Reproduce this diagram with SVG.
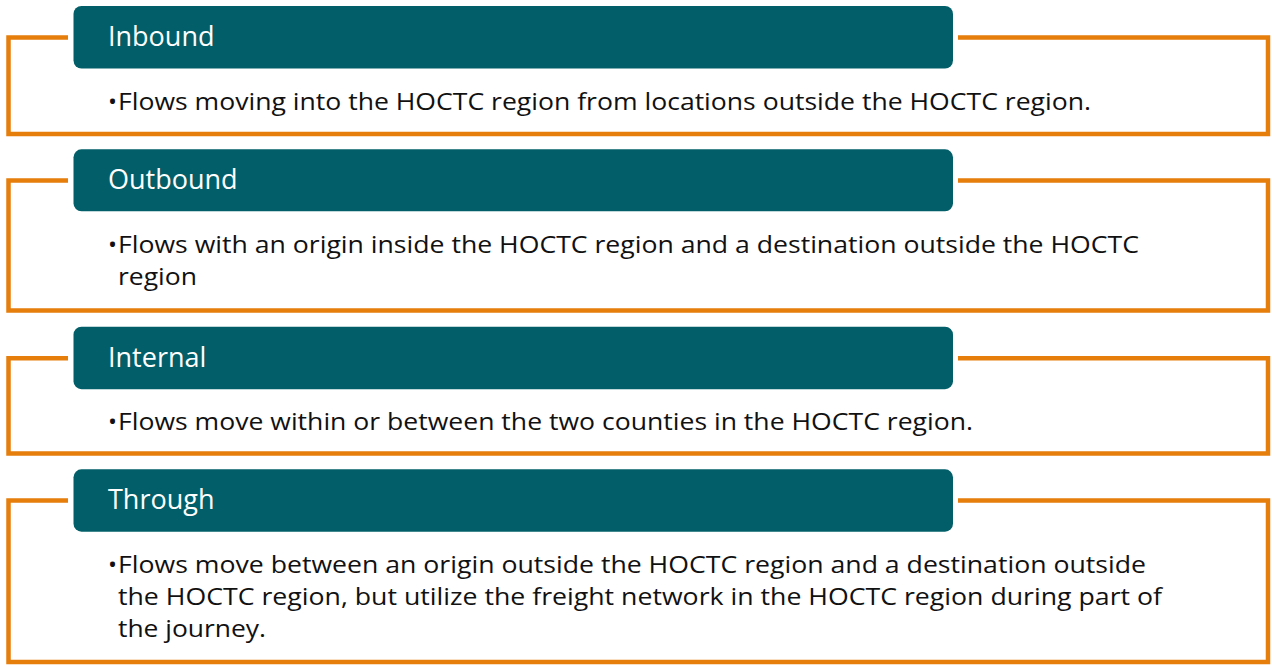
<svg xmlns="http://www.w3.org/2000/svg" width="1272" height="665" viewBox="0 0 1272 665">
  <style>
    .frame { fill: none; stroke: #E67E0C; stroke-width: 4.5; }
    .head { fill: #025F69; }
    .title { font-family: "Open Sans", "Noto Sans", sans-serif; font-size: 27px; fill: #FFFFFF; }
    .body { font-family: "Open Sans", "Noto Sans", sans-serif; font-size: 24px; fill: #111111; }
  </style>
  <rect width="1272" height="665" fill="#FFFFFF"/>

  <g id="inbound">
    <path class="frame" d="M68,37.5 H8.5 V134 H1268 V37.5 H958"/>
    <rect class="head" x="73.5" y="6" width="879.5" height="62.5" rx="8"/>
    <text class="title" x="108" y="46">Inbound</text>
    <text class="body" x="108" y="110">•</text>
    <text class="body" x="118" y="110" textLength="973" lengthAdjust="spacingAndGlyphs">Flows moving into the HOCTC region from locations outside the HOCTC region.</text>
  </g>

  <g id="outbound">
    <path class="frame" d="M68,180.5 H8.5 V310.5 H1268 V180.5 H958"/>
    <rect class="head" x="73.5" y="149.3" width="879.5" height="62" rx="8"/>
    <text class="title" x="108" y="189">Outbound</text>
    <text class="body" x="108" y="253">•</text>
    <text class="body" x="118" y="253" textLength="1021" lengthAdjust="spacingAndGlyphs">Flows with an origin inside the HOCTC region and a destination outside the HOCTC</text>
    <text class="body" x="118" y="285" textLength="79" lengthAdjust="spacingAndGlyphs">region</text>
  </g>

  <g id="internal">
    <path class="frame" d="M68,358.3 H8.5 V453.5 H1268 V358.3 H958"/>
    <rect class="head" x="73.5" y="326.7" width="879.5" height="62.5" rx="8"/>
    <text class="title" x="108" y="367">Internal</text>
    <text class="body" x="108" y="430">•</text>
    <text class="body" x="118" y="430" textLength="855" lengthAdjust="spacingAndGlyphs">Flows move within or between the two counties in the HOCTC region.</text>
  </g>

  <g id="through">
    <path class="frame" d="M68,500.5 H8.5 V662 H1268 V500.5 H958"/>
    <rect class="head" x="73.5" y="469.3" width="879.5" height="62.4" rx="8"/>
    <text class="title" x="108" y="509">Through</text>
    <text class="body" x="108" y="573">•</text>
    <text class="body" x="118" y="573" textLength="1028" lengthAdjust="spacingAndGlyphs">Flows move between an origin outside the HOCTC region and a destination outside</text>
    <text class="body" x="118" y="605" textLength="1044" lengthAdjust="spacingAndGlyphs">the HOCTC region, but utilize the freight network in the HOCTC region during part of</text>
    <text class="body" x="118" y="637" textLength="148" lengthAdjust="spacingAndGlyphs">the journey.</text>
  </g>

  <g id="connectors"></g>
</svg>
